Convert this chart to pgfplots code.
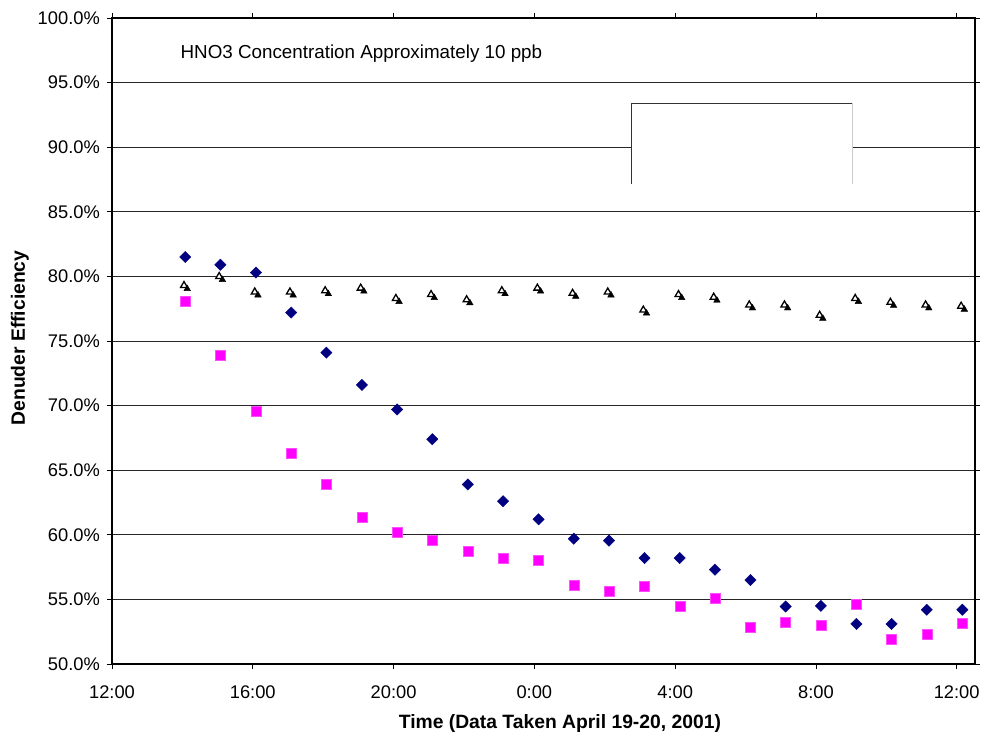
\documentclass[border=0pt]{standalone}
\usepackage{fontspec}
\setmainfont{Liberation Sans}
\usepackage{pgfplots}
\pgfplotsset{compat=1.18}

\definecolor{navyd}{HTML}{000080}
\definecolor{magsq}{HTML}{FF00FF}

\begin{document}
\begin{tikzpicture}
  \useasboundingbox (-112bp,-68bp) rectangle (874bp,664bp);
  \begin{axis}[
      at={(0,0)}, anchor=south west,
      scale only axis,
      width=863bp, height=646bp,
      xmin=0, xmax=24.52,
      ymin=50, ymax=100,
      xtick={0,4,8,12,16,20,24},
      xticklabels={12:00,16:00,20:00,0:00,4:00,8:00,12:00},
      ytick={50,55,...,100},
      yticklabel={\pgfmathprintnumber[fixed,fixed zerofill,precision=1]{\tick}\%},
      /pgf/number format/assume math mode=true,
      tick align=outside,
      major tick length=5bp,
      tick style={black, line width=0.8bp},
      axis line style={black, line width=1.4bp},
      ymajorgrids,
      grid style={black!85, line width=0.9bp},
      ticklabel style={font=\fontsize{18.3bp}{22bp}\selectfont},
      xticklabel style={anchor=base, yshift=-29bp},
      yticklabel style={anchor=east, inner sep=0pt, xshift=-7bp},
      xlabel={Time (Data Taken April 19-20, 2001)},
      ylabel={Denuder Efficiency},
      label style={font=\fontsize{19.3bp}{23bp}\selectfont\bfseries},
      xlabel style={at={(axis description cs:0.519,-0.0995)}, anchor=base},
      ylabel style={at={(axis description cs:-0.1066,0.5046)}, anchor=center},
    ]
    % empty box left over from the legend
    \fill[white] (axis cs:14.77,87.15) rectangle (axis cs:21.05,93.4);
    \draw[black!80, line width=0.9bp] (axis cs:14.77,87.15) -- (axis cs:14.77,93.4) -- (axis cs:21.05,93.4);
    \draw[black!20, line width=0.9bp] (axis cs:21.05,93.4) -- (axis cs:21.05,87.15);

    % diamonds
    \addplot[only marks, mark=square*, mark size=4bp,
      mark options={rotate=45, fill=navyd, draw=navyd}] coordinates {
      (2.08,81.5) (3.08,80.9) (4.09,80.3) (5.09,77.2) (6.09,74.1)
      (7.10,71.6) (8.10,69.7) (9.10,67.4) (10.11,63.9) (11.11,62.6)
      (12.12,61.2) (13.12,59.7) (14.12,59.55) (15.13,58.2) (16.13,58.2)
      (17.13,57.3) (18.14,56.5) (19.14,54.45) (20.14,54.5) (21.15,53.1)
      (22.15,53.1) (23.15,54.2) (24.16,54.2)
    };
    % squares
    \addplot[only marks, mark=square*, mark size=5bp,
      mark options={fill=magsq, draw=magsq!70}] coordinates {
      (2.08,78.1) (3.08,73.9) (4.09,69.6) (5.09,66.3) (6.09,63.9)
      (7.10,61.4) (8.10,60.2) (9.10,59.6) (10.11,58.75) (11.11,58.2)
      (12.12,58.0) (13.12,56.1) (14.12,55.6) (15.13,56.0) (16.13,54.5)
      (17.13,55.1) (18.14,52.85) (19.14,53.25) (20.14,53.0) (21.15,54.6)
      (22.15,51.9) (23.15,52.3) (24.16,53.15)
    };
    % triangles: open outline with a filled one offset below right
    \pgfplotstableread{
      x y
      2.08 79.2
      3.08 79.9
      4.09 78.7
      5.09 78.7
      6.09 78.8
      7.10 79.0
      8.10 78.2
      9.10 78.5
      10.11 78.1
      11.11 78.8
      12.12 79.0
      13.12 78.6
      14.12 78.7
      15.13 77.3
      16.13 78.5
      17.13 78.3
      18.14 77.7
      19.14 77.7
      20.14 76.9
      21.15 78.2
      22.15 77.9
      23.15 77.7
      24.16 77.6
    }\tritable
    \addplot[only marks, mark=triangle*, mark size=4bp,
      mark options={fill=white, draw=black, line width=1.3bp, xshift=-1.2bp, yshift=1.2bp}]
      table[x=x, y=y] {\tritable};
    \addplot[only marks, mark=triangle*, mark size=3.8bp,
      mark options={fill=black, draw=black, xshift=2bp, yshift=-2bp}]
      table[x=x, y=y] {\tritable};

    \node[anchor=base west, font=\fontsize{18.8bp}{22bp}\selectfont]
      at (axis cs:1.85,96.88) {HNO3 Concentration Approximately 10 ppb};
  \end{axis}
\end{tikzpicture}
\end{document}
